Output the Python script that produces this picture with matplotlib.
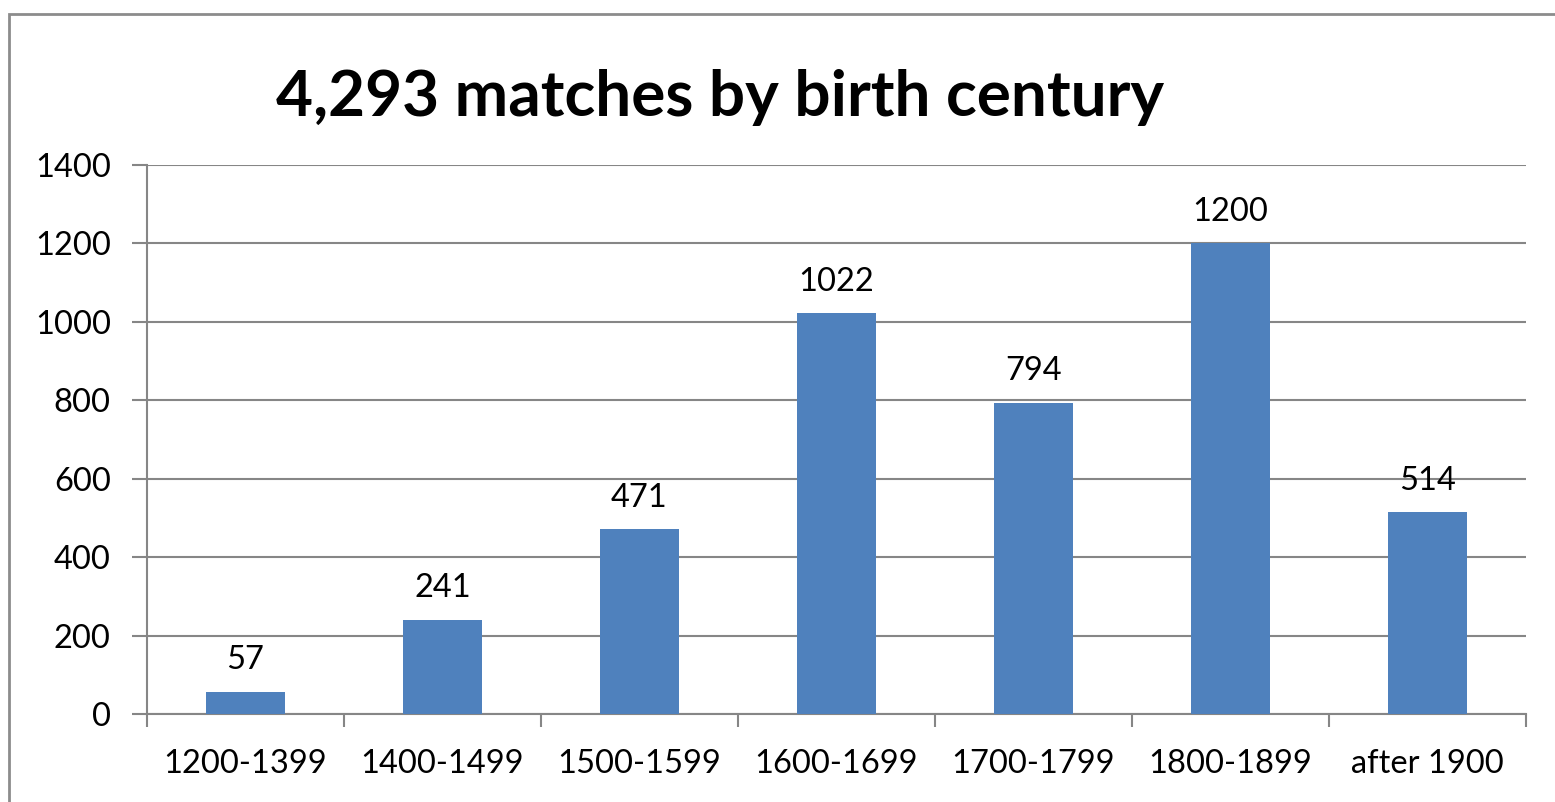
import matplotlib.pyplot as plt
from matplotlib.patches import Rectangle

centuries = ["1200-1399", "1400-1499", "1500-1599", "1600-1699",
             "1700-1799", "1800-1899", "after 1900"]
matches = [57, 241, 471, 1022, 794, 1200, 514]
y_ticks = [0, 200, 400, 600, 800, 1000, 1200, 1400]

plt.rcParams['font.family'] = ['Lato', 'DejaVu Sans']

fig = plt.figure(figsize=(15.55, 8.02), dpi=100)
ax = fig.add_axes([0.0945, 0.1097, 0.8869, 0.6846])

x = list(range(len(centuries)))
ax.bar(x, matches, width=0.4, color="#4F81BD", zorder=3)

for xi, v in zip(x, matches):
    ax.annotate(str(v), (xi, v), xytext=(0, 12), textcoords="offset points",
                ha="center", va="bottom", fontsize=23.5, color="black")

ax.set_xlim(-0.5, len(centuries) - 0.5)
ax.set_ylim(0, 1400)
ax.set_yticks(y_ticks)
ax.set_yticklabels([str(t) for t in y_ticks], fontsize=23.5)

# category labels centred, tick marks between categories
ax.set_xticks(x)
ax.set_xticklabels(centuries, fontsize=23.5)
ax.tick_params(axis="x", length=0, pad=25)
ax.set_xticks([i - 0.5 for i in range(len(centuries) + 1)], minor=True)
ax.tick_params(axis="x", which="minor", length=9, width=1.5, color="#868686")
ax.tick_params(axis="y", length=11, width=1.5, color="#868686", pad=15)

ax.grid(axis="y", color="#868686", linewidth=1.5, zorder=0)
for side in ["top", "right"]:
    ax.spines[side].set_visible(False)
for side in ["left", "bottom"]:
    ax.spines[side].set_color("#868686")
    ax.spines[side].set_linewidth(1.5)

fig.text(0.463, 0.878, "4,293 matches by birth century", ha="center",
         va="center", fontsize=46, fontweight="bold")

# outer chart border
fig.patches.append(Rectangle((0.006, -0.05), 1.1, 1.033, transform=fig.transFigure,
                             fill=False, edgecolor="#8c8c8c", linewidth=2))

fig.savefig("out.png", dpi=100)
